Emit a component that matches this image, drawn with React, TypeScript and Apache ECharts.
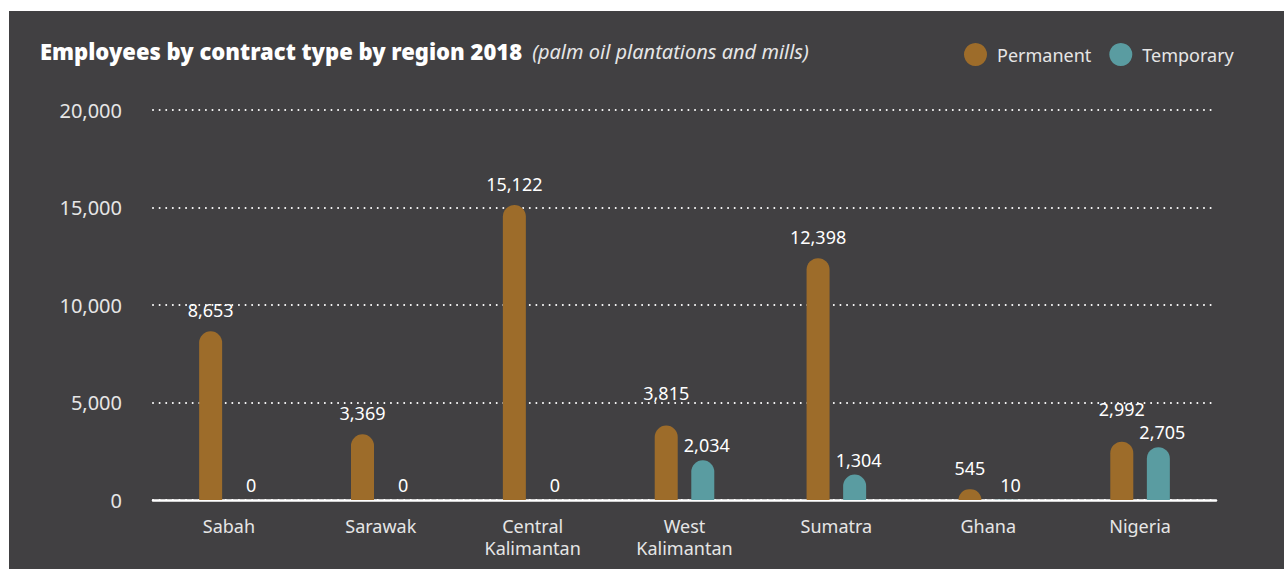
import React, { useEffect, useRef } from "react";
import * as echarts from "echarts";

const categories = ["Sabah", "Sarawak", "Central\nKalimantan", "West\nKalimantan", "Sumatra", "Ghana", "Nigeria"];
const permanent = [8653, 3369, 15122, 3815, 12398, 545, 2992];
const temporary = [0, 0, 0, 2034, 1304, 10, 2705];
const yTicks = { min: 0, max: 20000, interval: 5000 };
const titleText = "Employees by contract type by region 2018";
const subtitleText = "(palm oil plantations and mills)";
const seriesNames = ["Permanent", "Temporary"];

const PANEL = "#414042";
const BROWN = "#9d6c2a";
const TEAL = "#5a9ca1";
const FONT = "'Noto Sans', sans-serif";

export default function App() {
  const ref = useRef<HTMLDivElement>(null);
  useEffect(() => {
    if (!ref.current) return;
    const chart = echarts.init(ref.current, undefined, { renderer: "svg" });
    const labelStyle = (distance: number, dx: number) => ({
      show: true,
      position: "top" as const,
      distance,
      offset: [dx, 0],
      color: "#ffffff",
      fontSize: 18,
      fontFamily: FONT,
      formatter: (p: any) => Number(p.value).toLocaleString("en-US"),
    });
    chart.setOption({
      animation: false,
      backgroundColor: "#ffffff",
      graphic: [
        {
          type: "rect",
          z: -10,
          silent: true,
          shape: { x: 9, y: 11, width: 1284 - 9, height: 569 - 11 },
          style: { fill: PANEL },
        },
      ],
      title: {
        left: 40,
        top: 40,
        padding: 0,
        text: `{a|${titleText}}  {b|${subtitleText}}`,
        textStyle: {
          rich: {
            a: { fontFamily: FONT, fontWeight: 900, fontSize: 22, color: "#ffffff" },
            b: { fontFamily: FONT, fontStyle: "italic", fontWeight: "normal", fontSize: 20, color: "#e6e6e6" },
          },
        },
      },
      legend: {
        left: 964,
        top: 43,
        padding: 0,
        itemGap: 18,
        itemWidth: 23,
        itemHeight: 23,
        icon: "circle",
        data: seriesNames,
        textStyle: { color: "#e6e6e6", fontSize: 18, fontFamily: FONT, padding: [0, 0, 0, 5] },
      },
      grid: { left: 153, right: 68, top: 110, bottom: 69 },
      xAxis: {
        type: "category",
        data: categories,
        axisTick: { show: false },
        axisLine: { show: true, lineStyle: { color: "#ffffff", width: 2.5 } },
        axisLabel: {
          color: "#e6e6e6",
          fontSize: 18,
          fontFamily: FONT,
          margin: 15,
          lineHeight: 22,
          interval: 0,
        },
      },
      yAxis: {
        type: "value",
        min: yTicks.min,
        max: yTicks.max,
        interval: yTicks.interval,
        axisLine: { show: false },
        axisTick: { show: false },
        axisLabel: {
          color: "#e6e6e6",
          fontSize: 20,
          fontFamily: FONT,
          margin: 31,
          formatter: (v: number) => v.toLocaleString("en-US"),
        },
        splitLine: {
          show: true,
          lineStyle: { color: "#ffffff", width: 2, type: [0.01, 6.6], cap: "round" },
        },
      },
      series: [
        {
          name: seriesNames[0],
          type: "bar",
          data: permanent,
          barWidth: 23,
          barGap: "59%",
          itemStyle: { color: BROWN, borderRadius: [11.5, 11.5, 0, 0] },
          label: labelStyle(12, 0),
          labelLayout: (params: any) => {
            const i = params.dataIndex;
            return temporary[i] > permanent[i] * 0.5 ? { dy: -12 } : {};
          },
        },
        {
          name: seriesNames[1],
          type: "bar",
          data: temporary,
          barWidth: 23,
          itemStyle: { color: TEAL, borderRadius: [11.5, 11.5, 0, 0] },
          label: labelStyle(6, 4),
        },
      ],
    });
    return () => chart.dispose();
  }, []);
  return (
    <div style={{ position: "fixed", left: 0, top: 0, width: 1284, height: 569, background: "#fff" }}>
      <div ref={ref} style={{ width: 1284, height: 569 }} />
    </div>
  );
}
